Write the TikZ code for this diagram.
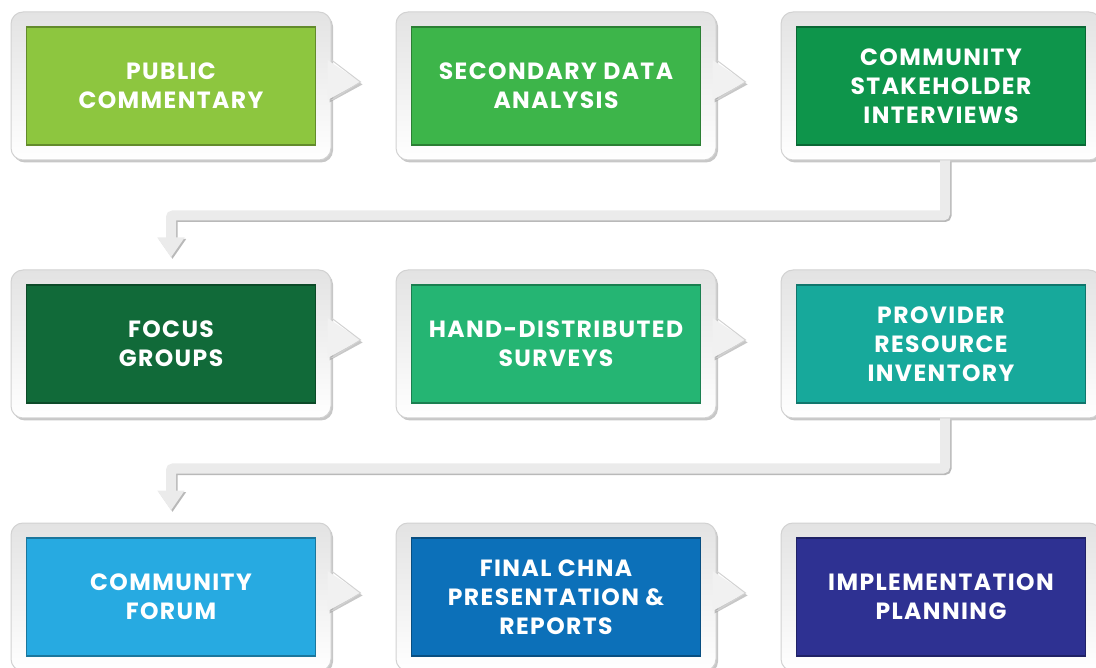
\documentclass[tikz,border=0pt]{standalone}
\usepackage{fontspec}
\setmainfont{Poppins}[LetterSpace=6]
\usetikzlibrary{arrows.meta,shadows}

\definecolor{pubgreen}{HTML}{8DC63F}
\definecolor{secgreen}{HTML}{3DB54A}
\definecolor{csigreen}{HTML}{0E954B}
\definecolor{focgreen}{HTML}{116A39}
\definecolor{hdsgreen}{HTML}{25B573}
\definecolor{priteal}{HTML}{17A99B}
\definecolor{forblue}{HTML}{27AAE1}
\definecolor{finblue}{HTML}{0C70B9}
\definecolor{impblue}{HTML}{2E3192}

\begin{document}
\begin{tikzpicture}[x=1pt,y=-1pt,
	bubble/.style={draw=gray!35, line width=1pt, rounded corners=12pt,
		top color=gray!22, bottom color=white,
		minimum width=320pt, minimum height=148pt,
		drop shadow={shadow xshift=2pt, shadow yshift=-2.5pt, fill=gray!80, opacity=.55}},
	card/.style={minimum width=289pt, minimum height=118pt, line width=1.6pt,
		text=white, align=center, font=\bfseries\fontsize{23.5}{29}\selectfont},
	pointer/.style={fill=gray!11},
	pointer edge/.style={draw=gray!35, line width=1pt},
	link/.style={line width=10pt, draw=gray!16, rounded corners=2pt,
		-{Triangle[width=26pt,length=20pt]}},
	link shadow/.style={link, draw=gray!55, transform canvas={shift={(1.5pt,-1.5pt)}}}]

	%%Location
	\useasboundingbox (0,0) rectangle (1096,668);

	%%Frames
	\node[bubble] (pubfr) at (171,86) {};
	\node[bubble] (secfr) at (556,86) {};
	\node[bubble] (csifr) at (941,86) {};
	\node[bubble] (focfr) at (171,344) {};
	\node[bubble] (hdsfr) at (556,344) {};
	\node[bubble] (prifr) at (941,344) {};
	\node[bubble] (forfr) at (171,597) {};
	\node[bubble] (finfr) at (556,597) {};
	\node[bubble] (impfr) at (941,597) {};

	%%Pointers
	\fill[pointer, drop shadow={shadow xshift=2pt, shadow yshift=-2.5pt, fill=gray!80, opacity=.55}] ([shift={(-4,-26)}]pubfr.east) -- ([shift={(29,-4)}]pubfr.east) -- ([shift={(-4,14)}]pubfr.east) -- cycle;
	\draw[pointer edge] ([shift={(0,-26)}]pubfr.east) -- ([shift={(29,-4)}]pubfr.east) -- ([shift={(0,14)}]pubfr.east);
	\fill[pointer, drop shadow={shadow xshift=2pt, shadow yshift=-2.5pt, fill=gray!80, opacity=.55}] ([shift={(-4,-26)}]secfr.east) -- ([shift={(29,-4)}]secfr.east) -- ([shift={(-4,14)}]secfr.east) -- cycle;
	\draw[pointer edge] ([shift={(0,-26)}]secfr.east) -- ([shift={(29,-4)}]secfr.east) -- ([shift={(0,14)}]secfr.east);
	\fill[pointer, drop shadow={shadow xshift=2pt, shadow yshift=-2.5pt, fill=gray!80, opacity=.55}] ([shift={(-4,-26)}]focfr.east) -- ([shift={(29,-4)}]focfr.east) -- ([shift={(-4,14)}]focfr.east) -- cycle;
	\draw[pointer edge] ([shift={(0,-26)}]focfr.east) -- ([shift={(29,-4)}]focfr.east) -- ([shift={(0,14)}]focfr.east);
	\fill[pointer, drop shadow={shadow xshift=2pt, shadow yshift=-2.5pt, fill=gray!80, opacity=.55}] ([shift={(-4,-26)}]hdsfr.east) -- ([shift={(29,-4)}]hdsfr.east) -- ([shift={(-4,14)}]hdsfr.east) -- cycle;
	\draw[pointer edge] ([shift={(0,-26)}]hdsfr.east) -- ([shift={(29,-4)}]hdsfr.east) -- ([shift={(0,14)}]hdsfr.east);
	\fill[pointer, drop shadow={shadow xshift=2pt, shadow yshift=-2.5pt, fill=gray!80, opacity=.55}] ([shift={(-4,-26)}]forfr.east) -- ([shift={(29,-4)}]forfr.east) -- ([shift={(-4,14)}]forfr.east) -- cycle;
	\draw[pointer edge] ([shift={(0,-26)}]forfr.east) -- ([shift={(29,-4)}]forfr.east) -- ([shift={(0,14)}]forfr.east);
	\fill[pointer, drop shadow={shadow xshift=2pt, shadow yshift=-2.5pt, fill=gray!80, opacity=.55}] ([shift={(-4,-26)}]finfr.east) -- ([shift={(29,-4)}]finfr.east) -- ([shift={(-4,14)}]finfr.east) -- cycle;
	\draw[pointer edge] ([shift={(0,-26)}]finfr.east) -- ([shift={(29,-4)}]finfr.east) -- ([shift={(0,14)}]finfr.east);

	%%Cards
	\node[card, fill=pubgreen, draw=pubgreen!70!black] (pub) at (pubfr) {PUBLIC\\COMMENTARY};
	\node[card, fill=secgreen, draw=secgreen!70!black] (sec) at (secfr) {SECONDARY DATA\\ANALYSIS};
	\node[card, fill=csigreen, draw=csigreen!70!black] (csi) at (csifr) {COMMUNITY\\STAKEHOLDER\\INTERVIEWS};
	\node[card, fill=focgreen, draw=focgreen!70!black] (foc) at (focfr) {FOCUS\\GROUPS};
	\node[card, fill=hdsgreen, draw=hdsgreen!70!black] (hds) at (hdsfr) {HAND-DISTRIBUTED\\SURVEYS};
	\node[card, fill=priteal, draw=priteal!70!black] (pri) at (prifr) {PROVIDER\\RESOURCE\\INVENTORY};
	\node[card, fill=forblue, draw=forblue!70!black] (for) at (forfr) {COMMUNITY\\FORUM};
	\node[card, fill=finblue, draw=finblue!70!black] (fin) at (finfr) {FINAL CHNA\\PRESENTATION \&\\REPORTS};
	\node[card, fill=impblue, draw=impblue!70!black] (imp) at (impfr) {IMPLEMENTATION\\PLANNING};

	%%Connectors
	\draw[link shadow] ([xshift=4pt]csifr.south) -- ++(0,55) -| ([yshift=12pt]focfr.north);
	\draw[link] ([xshift=4pt]csifr.south) -- ++(0,55) -| ([yshift=12pt]focfr.north);
	\draw[link shadow] ([xshift=4pt]prifr.south) -- ++(0,50) -| ([yshift=12pt]forfr.north);
	\draw[link] ([xshift=4pt]prifr.south) -- ++(0,50) -| ([yshift=12pt]forfr.north);
\end{tikzpicture}
\end{document}
